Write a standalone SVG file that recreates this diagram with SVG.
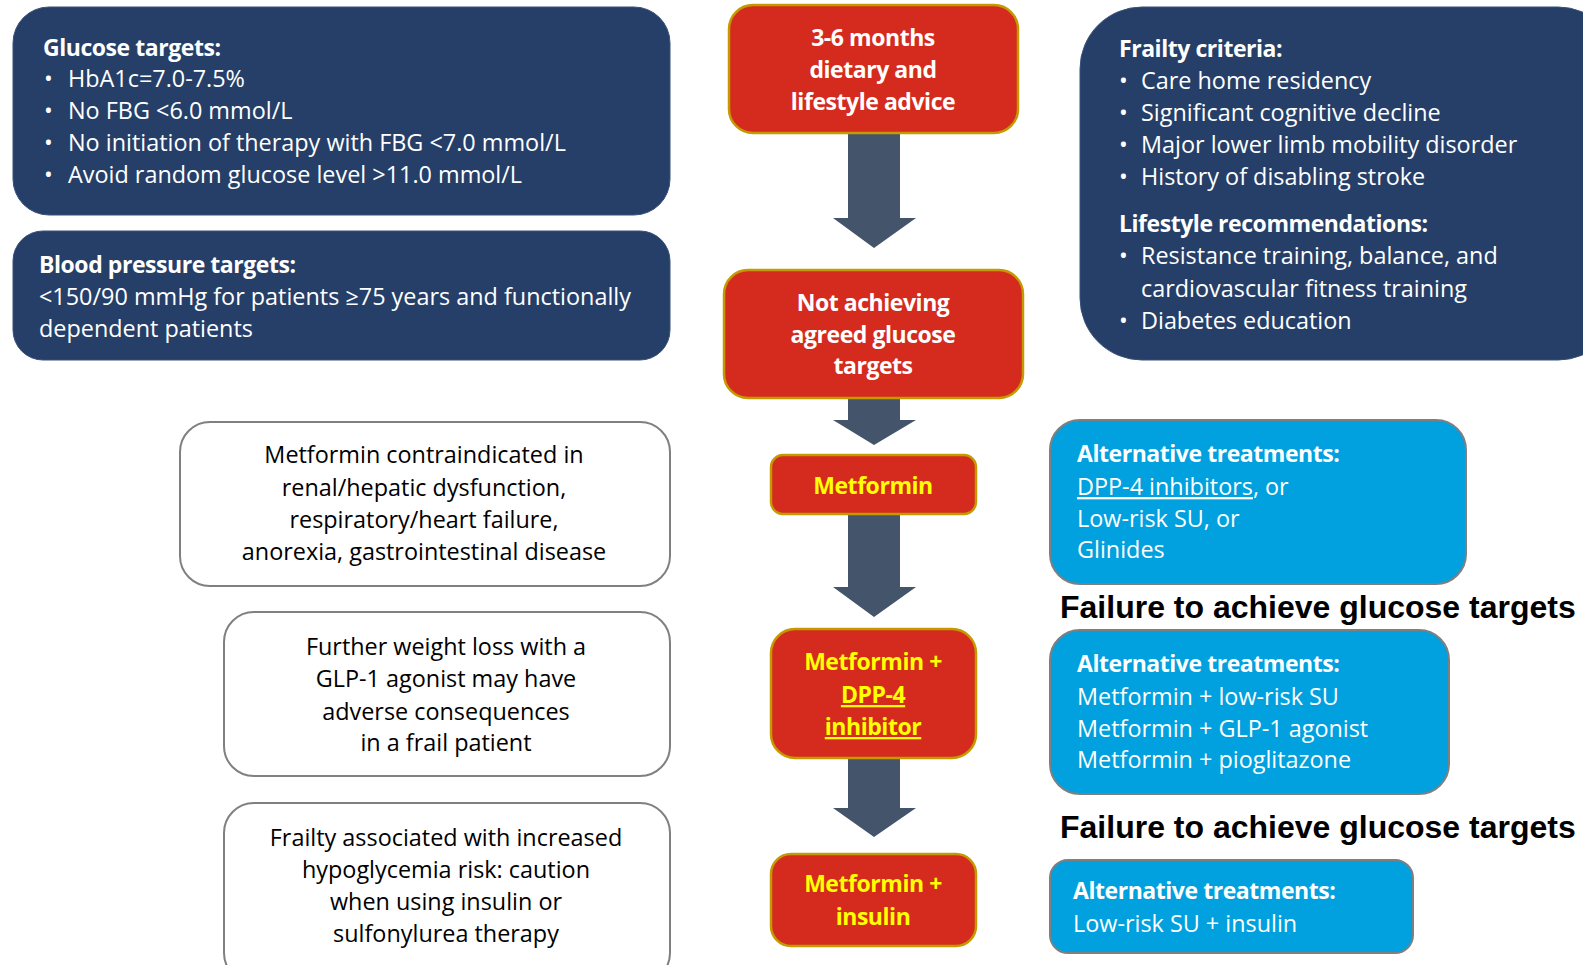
<svg xmlns="http://www.w3.org/2000/svg" width="1583" height="965" viewBox="0 0 1583 965">
<style>
.navy{fill:#263F69;stroke:#3A5078;stroke-width:1}
.red{fill:#D52B1E;stroke:#C49A00;stroke-width:2.5}
.white{fill:#FFFFFF;stroke:#808080;stroke-width:2}
.blue{fill:#00A1DE;stroke:#7F7F7F;stroke-width:2}
.arrow{fill:#44546A}
text{font-family:"Open Sans","Noto Sans","Liberation Sans",sans-serif;font-size:23.4px}
.wt{fill:#FFFFFF}
.bk{fill:#000000}
.yl{fill:#FFFF00;font-weight:bold;text-anchor:middle;font-size:23px;letter-spacing:-0.45px}
.cw{fill:#FFFFFF;font-weight:bold;text-anchor:middle;font-size:23px;letter-spacing:-0.45px}
.b{font-weight:bold;font-size:23px;letter-spacing:-0.45px}
.mid{text-anchor:middle}
.fail{font-family:"Liberation Sans",Arial,sans-serif;font-size:32px;font-weight:bold;fill:#000000}
</style>

<g id="connectors">
<polygon class="arrow" points="848,133 900,133 900,218 916,218 874,248 833,218 848,218"/>
<polygon class="arrow" points="848,398 900,398 900,420 916,420 874,445 833,420 848,420"/>
<polygon class="arrow" points="848,514 900,514 900,587 916,587 874,617 833,587 848,587"/>
<polygon class="arrow" points="848,758 900,758 900,808 916,808 874,837 833,808 848,808"/>
</g>

<g id="glucose-targets">
<rect class="navy" x="13" y="7" width="657" height="208" rx="36"/>
<text class="wt b" x="43" y="56">Glucose targets:</text>
<text class="wt" x="44" y="87">•</text><text class="wt" x="68" y="87">HbA1c=7.0-7.5%</text>
<text class="wt" x="44" y="119">•</text><text class="wt" x="68" y="119">No FBG &lt;6.0 mmol/L</text>
<text class="wt" x="44" y="151">•</text><text class="wt" x="68" y="151">No initiation of therapy with FBG &lt;7.0 mmol/L</text>
<text class="wt" x="44" y="183">•</text><text class="wt" x="68" y="183">Avoid random glucose level &gt;11.0 mmol/L</text>
</g>

<g id="bp-targets">
<rect class="navy" x="13" y="231" width="657" height="129" rx="30"/>
<text class="wt b" x="39" y="273">Blood pressure targets:</text>
<text class="wt" x="39" y="305">&lt;150/90 mmHg for patients ≥75 years and functionally</text>
<text class="wt" x="39" y="337">dependent patients</text>
</g>

<g id="frailty">
<rect class="navy" x="1080" y="7" width="540" height="353" rx="62"/>
<text class="wt b" x="1119" y="57">Frailty criteria:</text>
<text class="wt" x="1119" y="89">•</text><text class="wt" x="1141" y="89">Care home residency</text>
<text class="wt" x="1119" y="121">•</text><text class="wt" x="1141" y="121">Significant cognitive decline</text>
<text class="wt" x="1119" y="153">•</text><text class="wt" x="1141" y="153">Major lower limb mobility disorder</text>
<text class="wt" x="1119" y="185">•</text><text class="wt" x="1141" y="185">History of disabling stroke</text>
<text class="wt b" x="1119" y="232">Lifestyle recommendations:</text>
<text class="wt" x="1119" y="264">•</text><text class="wt" x="1141" y="264">Resistance training, balance, and</text>
<text class="wt" x="1141" y="297">cardiovascular fitness training</text>
<text class="wt" x="1119" y="329">•</text><text class="wt" x="1141" y="329">Diabetes education</text>
</g>

<g id="lifestyle-advice">
<rect class="red" x="729" y="5" width="289" height="128" rx="24"/>
<text class="cw" x="873" y="46">3-6 months</text>
<text class="cw" x="873" y="78">dietary and</text>
<text class="cw" x="873" y="110">lifestyle advice</text>
</g>

<g id="not-achieving">
<rect class="red" x="724" y="270" width="299" height="128" rx="24"/>
<text class="cw" x="873" y="311">Not achieving</text>
<text class="cw" x="873" y="343">agreed glucose</text>
<text class="cw" x="873" y="374">targets</text>
</g>

<g id="metformin">
<rect class="red" x="771" y="455" width="205" height="59" rx="12"/>
<text class="yl" x="873" y="494">Metformin</text>
</g>

<g id="metformin-dpp4">
<rect class="red" x="771" y="629" width="205" height="129" rx="24"/>
<text class="yl" x="873" y="670">Metformin +</text>
<text class="yl" x="873" y="703" text-decoration="underline">DPP-4</text>
<text class="yl" x="873" y="735" text-decoration="underline">inhibitor</text>
</g>

<g id="metformin-insulin">
<rect class="red" x="771" y="854" width="205" height="92" rx="20"/>
<text class="yl" x="873" y="892">Metformin +</text>
<text class="yl" x="873" y="925">insulin</text>
</g>

<g id="note-metformin">
<rect class="white" x="180" y="422" width="490" height="164" rx="30"/>
<text class="bk mid" x="424" y="463">Metformin contraindicated in</text>
<text class="bk mid" x="424" y="496">renal/hepatic dysfunction,</text>
<text class="bk mid" x="424" y="528">respiratory/heart failure,</text>
<text class="bk mid" x="424" y="560">anorexia, gastrointestinal disease</text>
</g>

<g id="note-glp1">
<rect class="white" x="224" y="612" width="446" height="164" rx="30"/>
<text class="bk mid" x="446" y="655">Further weight loss with a</text>
<text class="bk mid" x="446" y="687">GLP-1 agonist may have</text>
<text class="bk mid" x="446" y="720">adverse consequences</text>
<text class="bk mid" x="446" y="751">in a frail patient</text>
</g>

<g id="note-hypo">
<rect class="white" x="224" y="803" width="446" height="180" rx="30"/>
<text class="bk mid" x="446" y="846">Frailty associated with increased</text>
<text class="bk mid" x="446" y="878">hypoglycemia risk: caution</text>
<text class="bk mid" x="446" y="910">when using insulin or</text>
<text class="bk mid" x="446" y="942">sulfonylurea therapy</text>
</g>

<g id="alt-1">
<rect class="blue" x="1050" y="420" width="416" height="164" rx="30"/>
<text class="wt b" x="1077" y="462">Alternative treatments:</text>
<text class="wt" x="1077" y="495"><tspan text-decoration="underline">DPP-4 inhibitors</tspan>, or</text>
<text class="wt" x="1077" y="527">Low-risk SU, or</text>
<text class="wt" x="1077" y="558">Glinides</text>
</g>

<text id="failure-1" class="fail" x="1060" y="618">Failure to achieve glucose targets</text>

<g id="alt-2">
<rect class="blue" x="1050" y="630" width="399" height="164" rx="30"/>
<text class="wt b" x="1077" y="672">Alternative treatments:</text>
<text class="wt" x="1077" y="705">Metformin + low-risk SU</text>
<text class="wt" x="1077" y="737">Metformin + GLP-1 agonist</text>
<text class="wt" x="1077" y="768">Metformin + pioglitazone</text>
</g>

<text id="failure-2" class="fail" x="1060" y="838">Failure to achieve glucose targets</text>

<g id="alt-3">
<rect class="blue" x="1050" y="860" width="363" height="93" rx="18"/>
<text class="wt b" x="1073" y="899">Alternative treatments:</text>
<text class="wt" x="1073" y="932">Low-risk SU + insulin</text>
</g>
</svg>
